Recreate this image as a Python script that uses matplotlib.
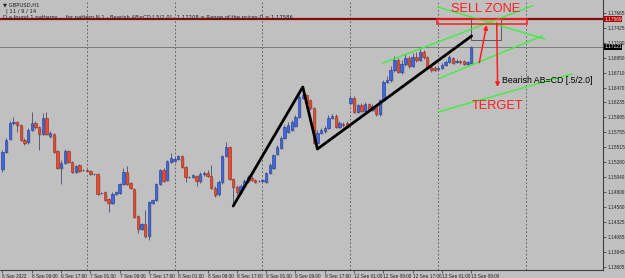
import matplotlib

matplotlib.use("Agg")
import matplotlib.pyplot as plt
from matplotlib.patches import Rectangle
from matplotlib.transforms import blended_transform_factory

# GBPUSD H1, bars from 6 Sep 2022 01:00 to 13 Sep 2022 09:00 (bar index = x)
opens = [
    1.15169, 1.15441, 1.15649, 1.15905, 1.15921, 1.15873, 1.15633, 1.15601, 1.15793, 1.15905,
    1.15841, 1.15729, 1.15985, 1.15697, 1.15729, 1.15457, 1.15185, 1.15265, 1.15457, 1.15281,
    1.15121, 1.15233, 1.15153, 1.15153, 1.15137, 1.15089, 1.15089, 1.14785, 1.14801, 1.14689,
    1.14625, 1.14769, 1.14785, 1.14929, 1.15121, 1.14945, 1.14849, 1.14417, 1.14209, 1.14289,
    1.14097, 1.14625, 1.14673, 1.14929, 1.15153, 1.14993, 1.15281, 1.15297, 1.15329, 1.15377,
    1.15201, 1.15041, 1.15041, 1.15057, 1.14977, 1.15089, 1.15105, 1.15057, 1.14865, 1.14769,
    1.14961, 1.15377, 1.15521, 1.15009, 1.14881, 1.14801, 1.14897, 1.14977, 1.15025, 1.14993,
    1.14977, 1.14977, 1.14961, 1.15105, 1.15185, 1.15409, 1.15505, 1.15665, 1.15761, 1.15793,
    1.15857, 1.16001, 1.16305, 1.16353, 1.16273, 1.16145, 1.15585, 1.15745, 1.15777, 1.15825,
    1.15985, 1.16017, 1.15841, 1.15889, 1.15905, 1.16225, 1.16305, 1.16081, 1.16193, 1.16097,
    1.16209, 1.16113, 1.16177, 1.16049, 1.16273, 1.16561, 1.16593, 1.16753, 1.16913, 1.16721,
    1.16849, 1.16945, 1.16817, 1.16961, 1.16913, 1.17041, 1.16961, 1.16801, 1.16785, 1.16769,
    1.16785, 1.16833, 1.16881, 1.16945, 1.16881, 1.16897, 1.16897, 1.16849, 1.16865,
]
highs = [
    1.15473, 1.15665, 1.15937, 1.16001, 1.15937, 1.15889, 1.15665, 1.15825, 1.16081, 1.15937,
    1.15857, 1.16065, 1.16081, 1.15777, 1.15745, 1.15473, 1.15313, 1.15489, 1.15473, 1.15297,
    1.15233, 1.15249, 1.15169, 1.15169, 1.15153, 1.15105, 1.15105, 1.14801, 1.14817, 1.14705,
    1.14801, 1.14817, 1.14945, 1.15185, 1.15217, 1.14961, 1.14865, 1.14433, 1.14305, 1.14513,
    1.14657, 1.14689, 1.14945, 1.15169, 1.15185, 1.15313, 1.15425, 1.15361, 1.15393, 1.15393,
    1.15217, 1.15057, 1.15089, 1.15073, 1.15121, 1.15137, 1.15153, 1.15233, 1.14897, 1.14993,
    1.15393, 1.15601, 1.15537, 1.15025, 1.14913, 1.14929, 1.15009, 1.15073, 1.15057, 1.15009,
    1.14993, 1.15009, 1.15121, 1.15265, 1.15409, 1.15553, 1.15697, 1.15873, 1.15921, 1.15953,
    1.16033, 1.16353, 1.16481, 1.16369, 1.16289, 1.16161, 1.15793, 1.15825, 1.15857, 1.16033,
    1.16049, 1.16049, 1.15937, 1.15921, 1.15937, 1.16353, 1.16337, 1.16209, 1.16225, 1.16241,
    1.16225, 1.16209, 1.16193, 1.16289, 1.16593, 1.16657, 1.16817, 1.16977, 1.16945, 1.16913,
    1.17009, 1.16977, 1.17025, 1.17041, 1.17089, 1.17073, 1.16977, 1.16849, 1.16817, 1.16817,
    1.16865, 1.16913, 1.16993, 1.16961, 1.16929, 1.16913, 1.16913, 1.16897, 1.17137,
]
lows = [
    1.15121, 1.15425, 1.15633, 1.15873, 1.15761, 1.15617, 1.15553, 1.15569, 1.15777, 1.15809,
    1.15473, 1.15713, 1.15713, 1.15665, 1.15425, 1.15169, 1.14929, 1.15249, 1.15265, 1.15105,
    1.15105, 1.15121, 1.15137, 1.15121, 1.15073, 1.15073, 1.14753, 1.14769, 1.14657, 1.14481,
    1.14609, 1.14753, 1.14769, 1.14913, 1.14913, 1.14849, 1.14385, 1.14145, 1.14193, 1.14065,
    1.14033, 1.14609, 1.14657, 1.14913, 1.14961, 1.14977, 1.15265, 1.15281, 1.15313, 1.15185,
    1.14961, 1.15025, 1.15025, 1.14897, 1.14945, 1.15057, 1.15041, 1.14849, 1.14721, 1.14737,
    1.14929, 1.15361, 1.14993, 1.14577, 1.14753, 1.14769, 1.14865, 1.14945, 1.14977, 1.14945,
    1.14961, 1.14961, 1.14945, 1.15089, 1.15169, 1.15393, 1.15489, 1.15649, 1.15745, 1.15777,
    1.15841, 1.15985, 1.16289, 1.16193, 1.16113, 1.15569, 1.15489, 1.15729, 1.15745, 1.15809,
    1.15969, 1.15825, 1.15825, 1.15841, 1.15825, 1.16209, 1.16065, 1.16065, 1.16081, 1.16081,
    1.16097, 1.16097, 1.16017, 1.16017, 1.16257, 1.16545, 1.16561, 1.16721, 1.16705, 1.16689,
    1.16817, 1.16785, 1.16801, 1.16881, 1.16897, 1.16929, 1.16785, 1.16721, 1.16737, 1.16737,
    1.16769, 1.16817, 1.16865, 1.16849, 1.16865, 1.16849, 1.16833, 1.16833, 1.16849,
]
closes = [
    1.15441, 1.15633, 1.15905, 1.15921, 1.15873, 1.15633, 1.15585, 1.15793, 1.15905, 1.15841,
    1.15729, 1.15985, 1.15729, 1.15745, 1.15441, 1.15185, 1.15265, 1.15457, 1.15281, 1.15121,
    1.15217, 1.15137, 1.15153, 1.15137, 1.15089, 1.15089, 1.14769, 1.14785, 1.14673, 1.14625,
    1.14769, 1.14801, 1.14929, 1.15121, 1.14929, 1.14865, 1.14401, 1.14209, 1.14289, 1.14097,
    1.14641, 1.14673, 1.14929, 1.15153, 1.14977, 1.15297, 1.15345, 1.15329, 1.15377, 1.15201,
    1.15041, 1.15041, 1.15073, 1.14977, 1.15089, 1.15105, 1.15057, 1.14865, 1.14753, 1.14961,
    1.15377, 1.15521, 1.15009, 1.14881, 1.14801, 1.14897, 1.14977, 1.15041, 1.14993, 1.14961,
    1.14977, 1.14993, 1.15105, 1.15233, 1.15393, 1.15521, 1.15665, 1.15841, 1.15873, 1.15921,
    1.16001, 1.16321, 1.16353, 1.16225, 1.16145, 1.15585, 1.15745, 1.15793, 1.15825, 1.15985,
    1.16017, 1.15841, 1.15905, 1.15873, 1.15841, 1.16305, 1.16081, 1.16193, 1.16097, 1.16209,
    1.16113, 1.16177, 1.16049, 1.16273, 1.16561, 1.16593, 1.16753, 1.16913, 1.16721, 1.16849,
    1.16945, 1.16817, 1.16961, 1.16913, 1.17041, 1.16961, 1.16801, 1.16753, 1.16753, 1.16785,
    1.16833, 1.16881, 1.16961, 1.16865, 1.16897, 1.16881, 1.16849, 1.16881, 1.17121,
]

# x-axis labels every 8 bars
tick_bars = list(range(0, 129, 8))
tick_labels = ["6 Sep 2022", "6 Sep 09:00", "6 Sep 17:00", "7 Sep 01:00", "7 Sep 09:00",
               "7 Sep 17:00", "8 Sep 01:00", "8 Sep 09:00", "8 Sep 17:00", "9 Sep 01:00",
               "9 Sep 09:00", "9 Sep 17:00", "12 Sep 01:00", "12 Sep 09:00", "12 Sep 17:00",
               "13 Sep 01:00", "13 Sep 09:00"]
day_starts = [23, 47, 71, 95, 119, 143]
price_ticks = [1.17665, 1.17425, 1.17190, 1.16950, 1.16710, 1.16470, 1.16235, 1.15995,
               1.15755, 1.15515, 1.15280, 1.15040, 1.14800, 1.14560, 1.14325, 1.14085,
               1.13845, 1.13605]

# AB=CD pattern points (bar, price)
abcd_bars = [63, 82, 86, 128.1]
abcd_prices = [1.14577, 1.16481, 1.15489, 1.17297]

# hand-drawn trend lines: (bar0, price0, bar1, price1)
green_lines = [
    (103.9, 1.16865, 144.6, 1.17777),
    (119.5, 1.16625, 147.3, 1.17297),
    (118.9, 1.17761, 148.1, 1.17249),
    (118.9, 1.16081, 155.5, 1.16689),
]
range_high = 1.17569     # red level / sell zone top
sell_zone = (118.7, 1.17489, 143.1, 1.17564)
pattern_box = (127.9, 1.17233, 136.1, 1.17569)

BG = "#c0c0c0"
UP_FACE, UP_EDGE = "#4068e0", "#1c3590"
DN_FACE, DN_EDGE = "#ec4a2a", "#9a2414"
WICK = "#5c5a78"
RED = "#ff1c1c"
TINY = 3.4
SMALL_FONT = "Liberation Sans"

fig = plt.figure(figsize=(6.25, 2.78), dpi=100, facecolor=BG)
ax = fig.add_axes([0, 8 / 278, 603 / 625, 270 / 278], facecolor=BG)

# candles
for i, (o, h, l, c) in enumerate(zip(opens, highs, lows, closes)):
    up = c >= o
    lo, hi = min(o, c), max(o, c)
    ax.bar(i + 0.45, hi - lo, bottom=lo - 0.00025, width=0.65, color="#acacac",
           linewidth=0, zorder=1)
    ax.vlines(i, l, h, color=WICK, lw=0.7, zorder=2)
    ax.bar(i, max(hi - lo, 0.00001), bottom=lo, width=0.65,
           color=UP_FACE if up else DN_FACE, edgecolor=UP_EDGE if up else DN_EDGE,
           linewidth=0.4, zorder=3)

for d in day_starts:
    ax.axvline(d, color="#505050", lw=0.6, ls=(0, (2, 2.5)), zorder=0.5)

ax.axhline(range_high, color="#8a0a0a", lw=1.6, zorder=4)
ax.axhline(closes[-1], color="#7a7a7a", lw=0.7, zorder=0.8)

ax.plot(abcd_bars, abcd_prices, color="black", lw=2, zorder=5, solid_capstyle="round")

for b0, p0, b1, p1 in green_lines:
    ax.plot([b0, b1], [p0, p1], color="#3cf03c", lw=1, zorder=5)

x0, y0, x1, y1 = pattern_box
ax.add_patch(Rectangle((x0, y0), x1 - x0, y1 - y0, fill=False, ec="#5a5a5a", lw=0.7, zorder=4))
x0, y0, x1, y1 = sell_zone
ax.add_patch(Rectangle((x0, y0), x1 - x0, y1 - y0, fill=False, ec=RED, lw=1.1, zorder=6))

narrow = ["Liberation Sans Narrow", "Liberation Sans"]
ax.text(132.0, 1.17721, "SELL ZONE", color=RED, fontsize=9.2, family=narrow,
        ha="center", va="center", zorder=7)
ax.text(135.2, 1.16177, "TERGET", color=RED, fontsize=9.2, family=narrow,
        ha="center", va="center", zorder=7)
ax.text(136.4, 1.16593, "Bearish AB=CD [.5/2.0]", color="black", fontsize=6.3,
        family="Liberation Sans", ha="left", va="center", zorder=7)

arrow = dict(arrowstyle="-|>", color=RED, lw=1.1, mutation_scale=6, shrinkA=0, shrinkB=0)
ax.annotate("", xy=(132.2, 1.17473), xytext=(130.2, 1.16870), arrowprops=arrow, zorder=7)
ax.annotate("", xy=(135.2, 1.16481), xytext=(134.95, 1.17505), arrowprops=arrow, zorder=7)

ax.set_xlim(-0.67, 163.97)
ax.set_ylim(1.13553, 1.17873)

ax.set_xticks(tick_bars)
ax.set_xticklabels(tick_labels, fontsize=TINY, family=SMALL_FONT, color="#202020")
for lbl in ax.get_xticklabels():
    lbl.set_horizontalalignment("left")
ax.tick_params(axis="x", length=2.5, width=0.5, pad=0.5, color="#303030")

ax.yaxis.tick_right()
ax.set_yticks(price_ticks)
ax.set_yticklabels([f"{p:.5f}" for p in price_ticks], fontsize=TINY, family=SMALL_FONT,
                   color="#202020")
ax.tick_params(axis="y", length=2.5, width=0.5, pad=0.8, color="#303030")

for side in ("top", "left"):
    ax.spines[side].set_visible(False)
for side in ("right", "bottom"):
    ax.spines[side].set_color("#404040")
    ax.spines[side].set_linewidth(0.8)

tr = blended_transform_factory(ax.transAxes, ax.transData)
ax.text(1.002, range_high, f"{range_high:.5f}", transform=tr, fontsize=TINY, color="white",
        ha="left", va="center", family=SMALL_FONT,
        bbox=dict(boxstyle="square,pad=0.12", fc="#b00000", ec="none"))
ax.text(1.002, closes[-1], f"{closes[-1]:.5f}", transform=tr, fontsize=TINY, color="white",
        ha="left", va="center", family=SMALL_FONT,
        bbox=dict(boxstyle="square,pad=0.12", fc="black", ec="none"))

# chart header
fig.text(3 / 625, 1 - 5 / 278, "\u25bc GBPUSD,H1", fontsize=3.8, color="#202020",
         va="center", family="DejaVu Sans")
fig.text(6 / 625, 1 - 11.5 / 278, "| 11 / 9 / 14", fontsize=3.8, color="#202020",
         va="center", family="DejaVu Sans")
fig.text(3 / 625, 1 - 17 / 278,
         "D.a found 1 patterns ... for pattern N 1 - Bearish AB=CD [.5/2.0] - 1.17208 "
         "= Range of the prices D = 1.17586",
         fontsize=3.8, color="#202020", va="center", family="DejaVu Sans")

fig.savefig("out.png", dpi=100, facecolor=BG)
